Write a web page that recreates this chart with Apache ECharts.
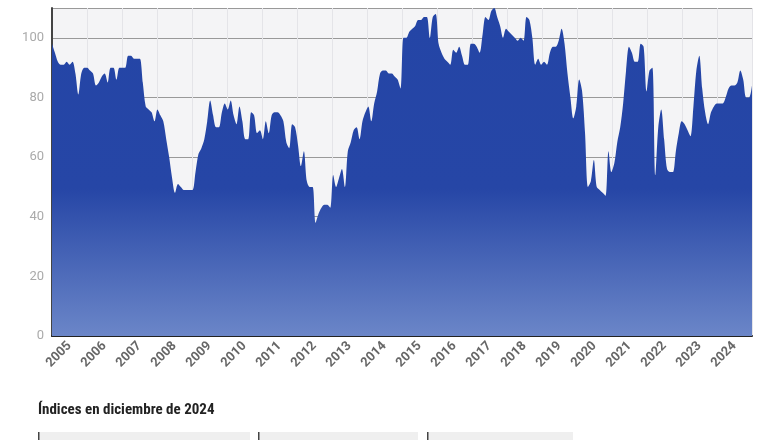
<!DOCTYPE html>
<html><head><meta charset="utf-8">
<script src="https://cdn.jsdelivr.net/npm/echarts@6/dist/echarts.min.js"></script>
<style>html,body{margin:0;padding:0;background:#fff}#c{width:780px;height:440px}</style>
</head><body><div id="c"></div>
<script>
const years = ['2005','2006','2007','2008','2009','2010','2011','2012','2013','2014','2015','2016','2017','2018','2019','2020','2021','2022','2023','2024'];
const v2005 = [98,95,92,91,91,92,91,92,88,81,88,90];
const v2006 = [90,89,88,84,85,87,88,85,90,90,86,90];
const v2007 = [90,90,94,94,93,93,93,85,77,76,75,72];
const v2008 = [76,74,72,66,60,53,48,51,50,49,49,49];
const v2009 = [49,55,61,63,66,72,79,74,70,70,75,78];
const v2010 = [76,79,74,71,77,72,66,66,75,74,68,69];
const v2011 = [66,72,68,74,75,75,74,72,65,63,71,70];
const v2012 = [64,57,62,52,50,50,38,41,43,44,44,43];
const v2013 = [54,50,53,56,50,62,65,69,70,66,72,75];
const v2014 = [77,72,78,82,88,89,89,88,88,87,86,83];
const v2015 = [100,100,102,103,104,106,106,107,107,100,107,108];
const v2016 = [98,95,93,92,91,96,95,97,94,91,91,98];
const v2017 = [98,97,95,101,107,106,109,110,107,104,100,103];
const v2018 = [102,101,100,99,100,99,107,106,100,91,93,91];
const v2019 = [92,91,95,97,97,99,103,98,88,80,73,77];
const v2020 = [86,82,68,50,52,59,50,49,48,47,62,55];
const v2021 = [58,65,70,78,89,97,95,92,92,98,97,82];
const v2022 = [89,90,54,70,76,66,56,55,55,62,68,72];
const v2023 = [71,69,67,77,89,94,83,75,71,75,77,78];
const v2024 = [78,78,80,83,84,84,85,89,86,80,80,84];
const values = [].concat(v2005,v2006,v2007,v2008,v2009,v2010,v2011,v2012,v2013,v2014,v2015,v2016,v2017,v2018,v2019,v2020,v2021,v2022,v2023,v2024);
const months = [];
years.forEach(y => { for (let m = 1; m <= 12; m++) months.push(y + '-' + m); });

const chart = echarts.init(document.getElementById('c'));
chart.setOption({
  animation: false,
  grid: { left: 52, right: 28, top: 8, bottom: 104, show: true, backgroundColor: '#f4f4f6', borderWidth: 0 },
  xAxis: [
    { type: 'category', data: months, boundaryGap: false, show: false },
    { type: 'category', data: years, boundaryGap: true, position: 'bottom',
      axisLine: { show: true, lineStyle: { color: '#222', width: 2 } },
      axisTick: { show: false },
      splitLine: { show: true, lineStyle: { color: '#e4e4e8', width: 1 } },
      axisLabel: { rotate: 45, color: '#666', fontSize: 13, fontWeight: 'bold', fontFamily: 'Roboto', margin: 8 } }
  ],
  yAxis: { type: 'value', min: 0, max: 110, interval: 20,
    axisLine: { show: true, lineStyle: { color: '#444', width: 2 } },
    axisTick: { show: false },
    axisLabel: { color: '#aaa', fontSize: 13, fontFamily: 'Roboto', showMaxLabel: false },
    splitLine: { lineStyle: { color: '#999', width: 1 } } },
  series: [{
    type: 'line', xAxisIndex: 0, data: values, smooth: 0.3, symbol: 'none',
    lineStyle: { width: 0 },
    areaStyle: { opacity: 1, color: new echarts.graphic.LinearGradient(0, 0, 0, 1, [
      { offset: 0, color: '#2445a6' }, { offset: 0.55, color: '#2646a6' }, { offset: 1, color: '#6b86c8' }]) },
    z: 1
  }],
  graphic: [
    { type: 'text', left: 38, top: 403, style: { text: 'Índices en diciembre de 2024', fontSize: 15, fontWeight: 'bold', fill: '#222', fontFamily: 'Roboto Condensed, Roboto' } },
    { type: 'rect', shape: { x: 38, y: 432, width: 212, height: 20 }, style: { fill: '#efefef' } },
    { type: 'rect', shape: { x: 38, y: 432, width: 1.5, height: 20 }, style: { fill: '#444' } },
    { type: 'rect', shape: { x: 258, y: 432, width: 160, height: 20 }, style: { fill: '#efefef' } },
    { type: 'rect', shape: { x: 258, y: 432, width: 1.5, height: 20 }, style: { fill: '#444' } },
    { type: 'rect', shape: { x: 427, y: 432, width: 146, height: 20 }, style: { fill: '#efefef' } },
    { type: 'rect', shape: { x: 427, y: 432, width: 1.5, height: 20 }, style: { fill: '#444' } }
  ]
});
</script></body></html>
